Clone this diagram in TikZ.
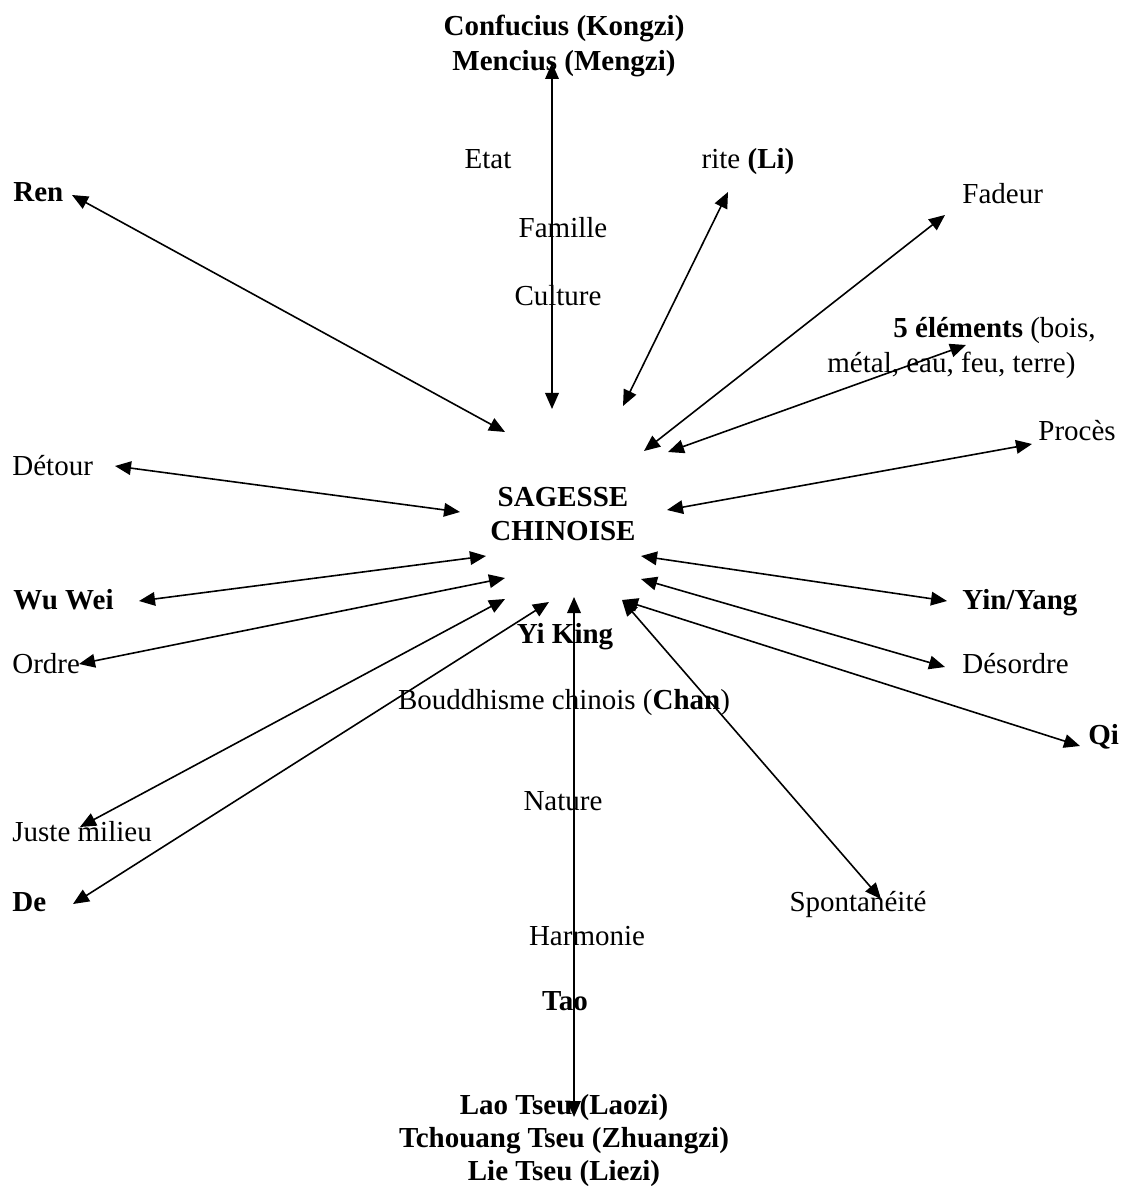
\documentclass[tikz,border=0pt]{standalone}
\usepackage{fontspec}
\setmainfont{Liberation Serif}
\usetikzlibrary{arrows.meta}
\begin{document}
\begin{tikzpicture}[x=0.5pt,y=-0.5pt,
  every node/.style={inner sep=0pt, font=\fontsize{14.5}{17}\selectfont},
  lbl/.style={anchor=base},
  lblw/.style={anchor=base west},
  conn/.style={{Triangle[length=8pt,width=6.8pt]}-{Triangle[length=8pt,width=6.8pt]}, line width=0.8pt}]
\fill[white] (0,0) rectangle (1121,1186);
\useasboundingbox (0,0) rectangle (1121,1186);
% texts
\node[lbl] (confucius) at (564,36) {\textbf{Confucius (Kongzi)}};
\node[lbl] (mencius) at (564,71) {\textbf{Mencius (Mengzi)}};
\node[lbl] (etat) at (488,169) {Etat};
\node[lbl] (rite) at (748,169) {rite \textbf{(Li)}};
\node[lblw] (ren) at (13,202) {\textbf{Ren}};
\node[lblw] (fadeur) at (962,204) {Fadeur};
\node[lbl] (famille) at (563,238) {Famille};
\node[lbl] (culture) at (558,306) {Culture};
\node[lblw] (elem1) at (893,338) {\textbf{5 éléments} (bois,};
\node[lblw] (elem2) at (827,373) {métal, eau, feu, terre)};
\node[lblw] (proces) at (1038,441) {Procès};
\node[lblw] (detour) at (12,475) {Détour};
\node[lbl] (sagesse) at (563,506) {\textbf{SAGESSE}};
\node[lbl] (chinoise) at (563,540) {\textbf{CHINOISE}};
\node[lblw] (wuwei) at (13,609) {\textbf{Wu Wei}};
\node[lblw] (yinyang) at (962,609) {\textbf{Yin/Yang}};
\node[lbl] (yiking) at (565,643) {\textbf{Yi King}};
\node[lblw] (ordre) at (12,673) {Ordre};
\node[lblw] (desordre) at (962,673) {Désordre};
\node[lbl] (bouddhisme) at (564,709) {Bouddhisme chinois (\textbf{Chan})};
\node[lblw] (qi) at (1088,744) {\textbf{Qi}};
\node[lbl] (nature) at (563,810) {Nature};
\node[lblw] (juste) at (12,841) {Juste milieu};
\node[lblw] (de) at (12,911) {\textbf{De}};
\node[lbl] (spont) at (858,911) {Spontanéité};
\node[lbl] (harmonie) at (587,945) {Harmonie};
\node[lbl] (tao) at (565,1010) {\textbf{Tao}};
\node[lbl] (laotseu) at (564,1114) {\textbf{Lao Tseu (Laozi)}};
\node[lbl] (tchouang) at (564,1147) {\textbf{Tchouang Tseu (Zhuangzi)}};
\node[lbl] (lietseu) at (564,1180) {\textbf{Lie Tseu (Liezi)}};
% arrow ends near the centre
\coordinate (cTop) at (552,409);
\coordinate (cRen) at (505,432);
\coordinate (cRite) at (623,406);
\coordinate (cFad) at (644,451);
\coordinate (cElem) at (668,452);
\coordinate (cProc) at (667,510);
\coordinate (cDet) at (460,512);
\coordinate (cWu) at (486,556);
\coordinate (cOrd) at (505,578);
\coordinate (cJus) at (505,599);
\coordinate (cDe) at (549,602);
\coordinate (cTao) at (574,597);
\coordinate (cYin) at (641,556);
\coordinate (cDes) at (641,579);
\coordinate (cQi) at (622,600);
% outer ends
\coordinate (oTop) at (552,63);
\coordinate (oRen) at (72,195);
\coordinate (oRite) at (728,192);
\coordinate (oFad) at (945,215);
\coordinate (oElem) at (966,345);
\coordinate (oProc) at (1032,444);
\coordinate (oDet) at (115,466);
\coordinate (oWu) at (139,601);
\coordinate (oOrd) at (79,664);
\coordinate (oJus) at (80,827);
\coordinate (oDe) at (73,904);
\coordinate (oTao) at (574,1117);
\coordinate (oYin) at (947,601);
\coordinate (oDes) at (945,667);
\coordinate (oQi) at (1080,746);
\coordinate (oSpont) at (881,899);
% connectors
\draw[conn] (cTop) -- (oTop);
\draw[conn] (cRen) -- (oRen);
\draw[conn] (cRite) -- (oRite);
\draw[conn] (cFad) -- (oFad);
\draw[conn] (cElem) -- (oElem);
\draw[conn] (cProc) -- (oProc);
\draw[conn] (cDet) -- (oDet);
\draw[conn] (cWu) -- (oWu);
\draw[conn] (cOrd) -- (oOrd);
\draw[conn] (cJus) -- (oJus);
\draw[conn] (cDe) -- (oDe);
\draw[conn] (cTao) -- (oTao);
\draw[conn] (cYin) -- (oYin);
\draw[conn] (cDes) -- (oDes);
\draw[conn] (cQi) -- (oQi);
\draw[conn] (cQi) -- (oSpont);
\end{tikzpicture}
\end{document}
